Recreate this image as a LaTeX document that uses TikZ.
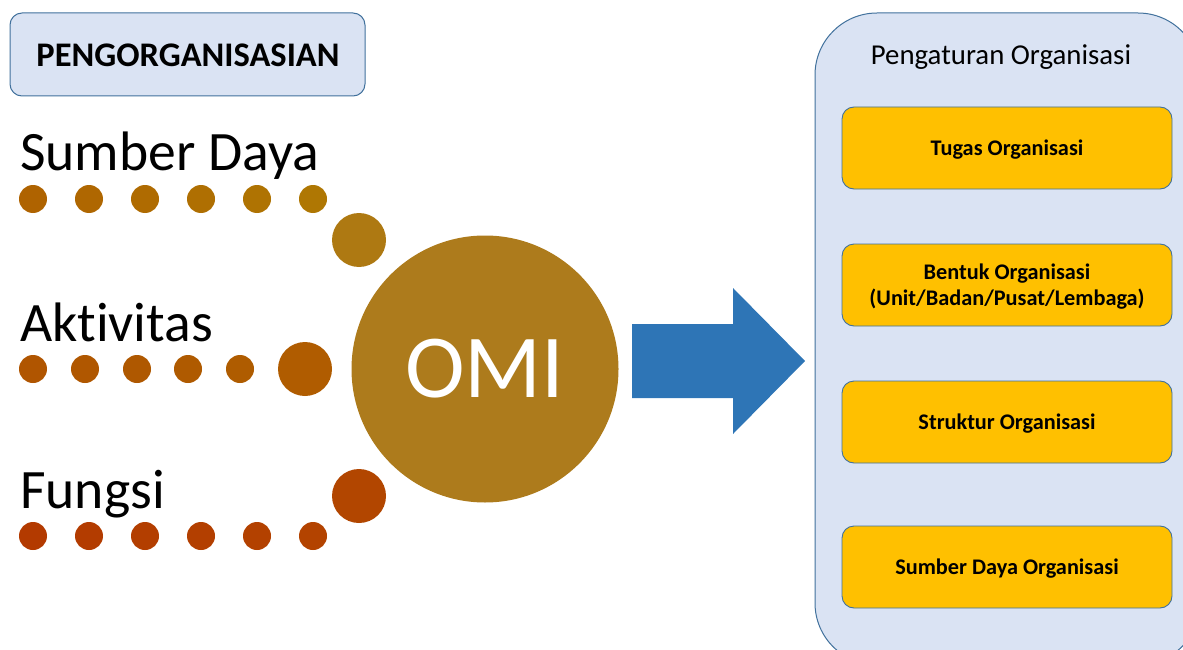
\documentclass[tikz,border=0pt]{standalone}
\usepackage{fontspec}
\setmainfont{Carlito}[Ligatures=NoCommon]
\usetikzlibrary{positioning}
\definecolor{paleblue}{HTML}{DAE3F3}
\definecolor{edgeblue}{HTML}{41719C}
\definecolor{arrowblue}{HTML}{2E75B6}
\definecolor{omigold}{HTML}{AD7B1C}
\definecolor{boxgold}{HTML}{FFC000}
\definecolor{sdA}{HTML}{AF6300}
\definecolor{sdB}{HTML}{AF7703}
\definecolor{sdBig}{HTML}{AE7912}
\definecolor{akA}{HTML}{B05500}
\definecolor{akB}{HTML}{AF5C00}
\definecolor{akBig}{HTML}{B05C00}
\definecolor{fgA}{HTML}{B33A00}
\definecolor{fgB}{HTML}{B34300}
\definecolor{fgBig}{HTML}{B24600}
\tikzset{
  titlebox/.style={draw=edgeblue, line width=1pt, fill=paleblue, rounded corners=12pt},
  panel/.style={draw=edgeblue, line width=1pt, fill=paleblue, rounded corners=62pt},
  itembox/.style={draw=edgeblue, line width=0.9pt, fill=boxgold, rounded corners=12pt,
    minimum width=330pt, minimum height=82pt, align=center, inner sep=0pt,
    font=\fontsize{22.3}{26}\selectfont\bfseries},
  itemtext/.style={align=center, inner sep=0pt, font=\fontsize{22.3}{26}\selectfont\bfseries},
  bigword/.style={anchor=base west, inner sep=0pt, font=\fontsize{55.6}{60}\selectfont},
  dot/.style={circle, inner sep=0pt, minimum size=28pt},
  bigdot/.style={circle, inner sep=0pt, minimum size=54pt},
}
\begin{document}
\begin{tikzpicture}[x=1pt, y=-1pt]
\useasboundingbox (0,0) rectangle (1183,650);

% heading box
\draw[titlebox] (10,13) rectangle (365,96);
\node[font=\fontsize{34.5}{38}\selectfont\bfseries] (title) at (188,55) {PENGORGANISASIAN};

% three inputs with their dot trails
\node[bigword] (sd) at (20,170) {Sumber Daya};
\node[bigword] (ak) at (20,341) {Aktivitas};
\node[bigword] (fg) at (20,508) {Fungsi};

\foreach \i/\x in {1/33,2/89,3/145,4/201,5/257,6/313}{
  \pgfmathsetmacro\mix{100-(\i-1)*20}
  \node[dot, fill=sdA!\mix!sdB] (sd\i) at (\x,199) {};
  \node[dot, fill=fgA!\mix!fgB] (fg\i) at (\x,536) {};
}
\foreach \i/\x in {1/33,2/85,3/137,4/188,5/240}{
  \pgfmathsetmacro\mix{100-(\i-1)*25}
  \node[dot, fill=akA!\mix!akB] (ak\i) at (\x,369) {};
}
\node[bigdot, fill=sdBig] (sdbig) at (359,240) {};
\node[bigdot, fill=akBig] (akbig) at (305,369) {};
\node[bigdot, fill=fgBig] (fgbig) at (359,496) {};

% central circle
\node[circle, fill=omigold, minimum size=267pt, inner sep=0pt, text=white,
  font=\fontsize{90}{96}\selectfont] (omi) at (485,369) {OMI};

% block arrow
\fill[arrowblue] (632,324) -- (733,324) -- (733,288) -- (805,361) -- (733,434)
  -- (733,398) -- (632,398) -- cycle;

% right panel
\draw[panel] (815,13) rectangle (1200,665);
\node[font=\fontsize{28.8}{32}\selectfont] (head) at (1001,57) {Pengaturan Organisasi};
\node[itembox] (b1) at (1007,148) {};
\node[itembox] (b2) at (1007,285) {};
\node[itembox] (b3) at (1007,422) {};
\node[itembox] (b4) at (1007,567) {};
\node[itemtext] (t1) at (1007,150) {Tugas Organisasi};
\node[itemtext] (t2) at (1007,287) {Bentuk Organisasi\\(Unit/Badan/Pusat/Lembaga)};
\node[itemtext] (t3) at (1007,424) {Struktur Organisasi};
\node[itemtext] (t4) at (1007,569) {Sumber Daya Organisasi};
\end{tikzpicture}
\end{document}
